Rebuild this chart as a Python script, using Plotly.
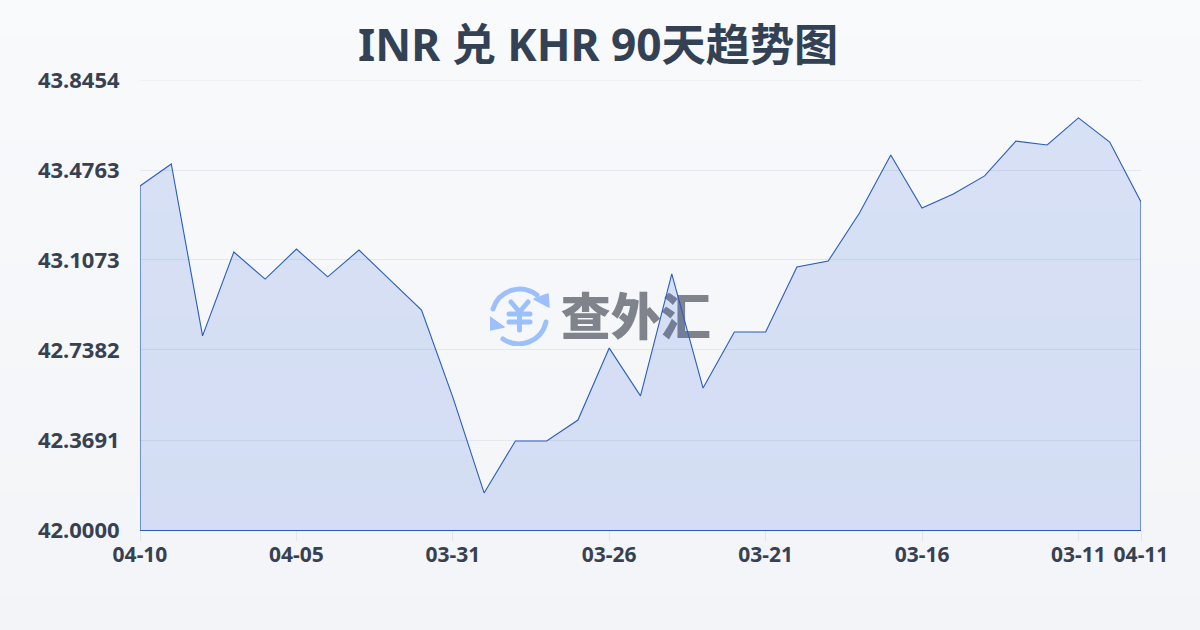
import base64
import plotly.graph_objects as go

title = "INR 兑 KHR 90天趋势图"
values = [43.411, 43.501, 42.796, 43.140, 43.029, 43.152, 43.038, 43.148, 43.025, 42.902,
          42.545, 42.152, 42.365, 42.365, 42.451, 42.746, 42.550, 43.050, 42.582, 42.812,
          42.812, 43.079, 43.103, 43.300, 43.538, 43.320, 43.378, 43.452, 43.595, 43.579,
          43.690, 43.591, 43.345]
x_index = list(range(len(values)))
x_tick_positions = [0, 5, 10, 15, 20, 25, 30, 32]
x_tick_labels = ["04-10", "04-05", "03-31", "03-26", "03-21", "03-16", "03-11", "04-11"]
y_ticks = [42.0, 42.3691, 42.7382, 43.1073, 43.4763, 43.8454]
y_tick_labels = ["42.0000", "42.3691", "42.7382", "43.1073", "43.4763", "43.8454"]

FONT = "Noto Sans, Noto Sans CJK SC, sans-serif"
INK = "#374151"
LINE = "#2a5cc0"

logo_svg = """<svg xmlns='http://www.w3.org/2000/svg' viewBox='0 0 60 60'>
<g fill='none' stroke='#9cc0fb' stroke-width='5' stroke-linecap='round' stroke-linejoin='round'>
<path d='M3 23 A28 28 0 0 1 47 9'/><path d='M56 36 A28 28 0 0 1 13 53'/>
<path d='M21 16 L29.5 26 L38 16 M29.5 26 L29.5 44 M19 28 L40 28 M19 36 L40 36'/></g>
<path d='M58 8 L59 21 L44 13 Z M0 31 L0 44 L14 41 Z' fill='#9cc0fb' stroke='#9cc0fb' stroke-width='1.5' stroke-linejoin='round'/>
</svg>"""
logo_uri = "data:image/svg+xml;base64," + base64.b64encode(logo_svg.encode()).decode()

# page background: soft vertical gradient made of thin bands
bands = 40
shapes = []
top, bot = (249, 250, 252), (242, 244, 247)
for i in range(bands):
    t = i / (bands - 1)
    c = tuple(round(a + (b - a) * t) for a, b in zip(top, bot))
    shapes.append(dict(type="rect", xref="paper", yref="paper", layer="below", line_width=0,
                       x0=-0.2, x1=1.1, y0=1.25 - (i + 1) * 1.55 / bands, y1=1.25 - i * 1.55 / bands,
                       fillcolor=f"rgb{c}"))
shapes.append(dict(type="line", xref="paper", yref="y", x0=0, x1=1, y0=y_ticks[-1], y1=y_ticks[-1],
                   layer="below", line=dict(color="#e4e7ec", width=1)))
shapes.append(dict(type="line", xref="x", yref="y", x0=x_index[0], x1=x_index[0], y0=42, y1=values[0],
                   line=dict(color=LINE, width=1.2)))
shapes.append(dict(type="line", xref="x", yref="y", x0=x_index[-1], x1=x_index[-1], y0=42, y1=values[-1],
                   line=dict(color=LINE, width=1.2)))

fig = go.Figure()
fig.add_trace(go.Scatter(x=[15.85], y=[42.851], mode="text", text=["查外汇"], hoverinfo="skip",
                         textfont=dict(family="Noto Sans CJK SC", size=50, color="#7f838c", weight=900),
                         showlegend=False))
fig.add_trace(go.Scatter(x=x_index, y=values, mode="lines", line=dict(color=LINE, width=1.1),
                         fill="tozeroy", fillcolor="rgba(47,100,215,0.16)", showlegend=False))
fig.update_layout(
    width=1200, height=630, margin=dict(l=140, r=59, t=80, b=100),
    paper_bgcolor="#f6f7f9", plot_bgcolor="rgba(0,0,0,0)", shapes=shapes,
    title=dict(text=title, x=0.4985, xanchor="center", y=0.928, yanchor="middle",
               font=dict(family=FONT, size=44.2, color="#334155", weight=700)),
    images=[dict(source=logo_uri, xref="paper", yref="paper", x=(490 - 140) / 1001, y=(530 - 286) / 450,
                 sizex=60 / 1001, sizey=60 / 450, xanchor="left", yanchor="top", layer="above")],
    xaxis=dict(range=[0, 32], tickmode="array", tickvals=x_tick_positions, ticktext=x_tick_labels,
               showgrid=False, zeroline=False, showline=True, linecolor=LINE, linewidth=1,
               ticks="outside", ticklen=10, tickcolor="#e2e5ea", tickwidth=1, ticklabelstandoff=-4,
               tickfont=dict(family=FONT, size=21, color=INK, weight=700)),
    yaxis=dict(range=[42, 43.8454], tickmode="array", tickvals=y_ticks, ticktext=y_tick_labels,
               showgrid=True, gridcolor="#e4e7ec", gridwidth=1, zeroline=False, showline=False,
               ticks="outside", ticklen=15, tickcolor="rgba(0,0,0,0)",
               tickfont=dict(family=FONT, size=22, color=INK, weight=700)),
)
fig.write_html("out.html", post_script="document.body.style.margin='0';", config={"displayModeBar": False})
